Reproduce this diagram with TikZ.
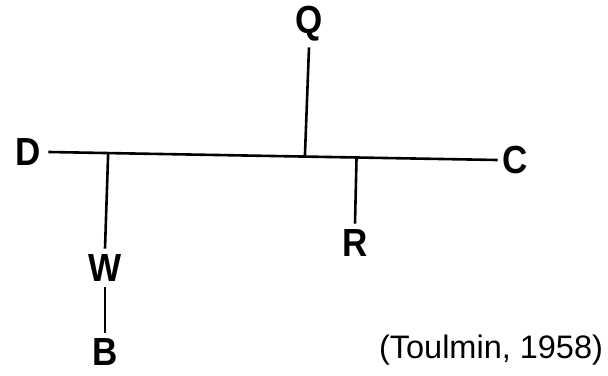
\documentclass[tikz,border=0pt]{standalone}
\usepackage{fontspec}
\setmainfont{Liberation Sans}
\usetikzlibrary{calc}

\begin{document}
\begin{tikzpicture}%
  [x=1pt,y=-1pt,line width=2.6pt]
  \tikzstyle{part node}=[font=\fontsize{35}{35}\selectfont\bfseries,inner sep=4pt,
    yscale=1.12,transform shape]
  \tikzstyle{cite node}=[font=\fontsize{32.5}{32.5}\selectfont,inner sep=0]
  \useasboundingbox (0,0) rectangle (608,375);
  % the six parts of the argument
  \node(D)[part node,inner sep=6.5pt] at (28,152){D};
  \node(C)[part node,inner sep=3.5pt] at (515,160){C};
  \node(Q)[part node] at (309,24){Q};
  \node(R)[part node] at (355,243){R};
  \node(W)[part node] at (105,268){W};
  \node(B)[part node] at (105,352){B};
  \node(src)[cite node] at (491,350){(Toulmin, 1958)};
  % main line and where the others meet it
  \draw (D.east) -- (C.west);
  \coordinate(dw) at ($(D.east)!0.133!(C.west)$);
  \coordinate(dq) at ($(D.east)!0.571!(C.west)$);
  \coordinate(dr) at ($(D.east)!0.686!(C.west)$);
  \draw (Q.south) -- (dq);
  \draw (dr) -- (R.north);
  \draw (dw) -- (W.north);
  \draw (W.south) -- (B.north);
\end{tikzpicture}
\end{document}
